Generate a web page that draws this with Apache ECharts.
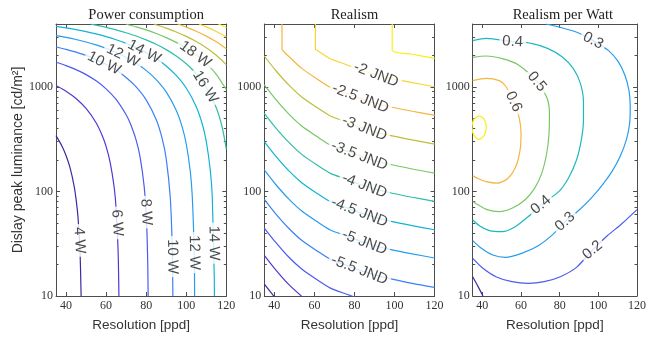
<!DOCTYPE html>
<html><head><meta charset="utf-8">
<script src="https://cdn.jsdelivr.net/npm/echarts@6/dist/echarts.min.js"></script>
<style>html,body{margin:0;padding:0;background:#fff}#c{width:649px;height:339px}</style>
</head><body><div id="c"></div>
<script>
// ================= DATA =================
const panelTitles = ['Power consumption', 'Realism', 'Realism per Watt'];
const xAxisName = 'Resolution [ppd]';
const yAxisName = 'Dislay peak luminance [cd/m²]';
const xTicks = [40, 60, 80, 100, 120];
const yTicks = [10, 100, 1000];
const yMinorTicks = [20, 30, 40, 50, 60, 70, 80, 90, 200, 300, 400, 500, 600, 700, 800, 900, 2000, 3000];

// Power consumption contours: [resolution ppd, luminance cd/m2]
const power04W = [[35,342],[38,271],[40,221],[42,169],[44,114],[45,85],[46,56],[47,26],[47.53,10]];
const power06W = [[35,1031],[40,911],[45,775],[50,622],[55,454],[58,345],[60,270],[62,191],[64,111],[65,69],[66,27],[66.4,10]];
const power08W = [[35,1721],[40,1601],[45,1464],[50,1312],[55,1144],[60,959],[65,759],[70,542],[72,451],[75,310],[77,212],[79,112],[80,61],[80.5,35],[80.8,20],[81,10]];
const power10W = [[35,2411],[40,2290],[45,2154],[50,2002],[55,1833],[60,1649],[65,1449],[70,1232],[75,1000],[80,751],[85,487],[88,320],[90,206],[92,89],[93,30],[93.33,10]];
const power12W = [[35,3100],[40,2980],[45,2844],[50,2691],[55,2523],[60,2339],[65,2138],[70,1922],[75,1689],[80,1441],[85,1176],[90,896],[95,599],[98,413],[100,286],[102,157],[103,91],[104,25],[104.2,10]];
const power14W = [[35,3790],[40,3670],[45,3533],[50,3381],[55,3213],[60,3028],[65,2828],[70,2611],[75,2379],[80,2130],[85,1866],[90,1585],[95,1289],[100,976],[105,647],[108,442],[110,302],[112,160],[113,88],[114,15],[114.07,10]];
const power16W = [[52.2,4000],[55,3902],[60,3718],[65,3518],[70,3301],[75,3069],[80,2820],[85,2556],[90,2275],[95,1978],[100,1666],[105,1337],[110,992],[115,631],[118,407],[120,254]];
const power18W = [[69.8,4000],[70,3991],[75,3758],[80,3510],[85,3245],[90,2964],[95,2668],[100,2355],[105,2027],[110,1682],[115,1321],[120,944]];
const power20W = [[83.8,4000],[85,3935],[90,3654],[95,3358],[100,3045],[105,2716],[110,2371],[115,2011],[120,1634]];
const power22W = [[95.8,4000],[100,3734],[105,3406],[110,3061],[115,2700],[120,2323]];
const power24W = [[106.4,4000],[110,3751],[115,3390],[120,3013]];
const power26W = [[116.1,4000],[120,3703]];
const powerLabelText = ['4 W','6 W','8 W','10 W','12 W','14 W','10 W','12 W','14 W','16 W','18 W'];
const powerLabelAt = [[46.7,34],[65.5,50],[80,63.5],[93.1,23.8],[104,26],[113.8,32],[59,1680],[68.5,1985],[79,2170],[109.5,1000],[104.5,2050]];

// Realism contours (JND)
const realismM70 = [[35,13.0],[40.5,9.57]];
const realismM65 = [[35,24.5],[40.5,18.0],[47.17,12.9],[53.83,9.86]];
const realismM60 = [[35,44.7],[40.5,32.9],[47.17,23.6],[53.83,18.0],[61.33,14.3],[68,11.9],[75.5,10.5],[83.83,9.2]];
const realismM55 = [[35,84.1],[40.5,61.8],[47.17,44.5],[53.83,33.9],[61.33,27.0],[68,22.4],[75.5,19.8],[83.83,17.3],[91.33,15.7],[98.83,14.5],[108.83,13.2],[120,12.1]];
const realismM50 = [[35,160.5],[40.5,117.9],[47.17,84.9],[53.83,64.6],[61.33,51.5],[68,42.8],[75.5,37.8],[83.83,33.0],[91.33,29.9],[98.83,27.6],[108.83,25.3],[120,23.1]];
const realismM45 = [[35,299.5],[40.5,220],[47.17,158],[53.83,120.6],[61.33,96],[68,79.8],[75.5,70.6],[83.83,61.7],[91.33,55.8],[98.83,51.5],[108.83,47.1],[120,43.0]];
const realismM40 = [[35,559],[40.5,411],[47.17,296],[53.83,225],[61.33,179],[68,149],[75.5,132],[83.83,115],[91.33,104],[98.83,96.2],[108.83,88],[120,80.3]];
const realismM35 = [[35,1044],[40.5,767],[47.17,552],[53.83,420],[61.33,335],[68,278],[75.5,246],[83.83,215],[91.33,194],[98.83,180],[108.83,164],[120,150]];
const realismM30 = [[35,1977],[40.5,1452],[47.17,1045],[53.83,796],[61.33,634],[68,527],[75.5,466],[83.83,407],[91.33,368],[98.83,340],[108.83,311],[120,284]];
const realismM25 = [[43.83,4000],[43.83,2315],[47.17,1965],[53.83,1496],[61.33,1192],[68,991],[75.5,876],[83.83,765],[91.33,692],[98.83,639],[108.83,585],[120,534]];
const realismM20 = [[60.5,4000],[60.5,2296],[61.33,2242],[68,1863],[75.5,1648],[83.83,1439],[91.33,1301],[98.83,1202],[108.83,1100],[120,1004]];
const realismM15 = [[98.83,4000],[98.83,2244],[108.83,2053],[120,1874]];
const realismLabelText = ['-2 JND','-2.5 JND','-3 JND','-3.5 JND','-4 JND','-4.5 JND','-5 JND','-5.5 JND'];
const realismLabelAt = [[90.8,1309],[83,778],[85,402],[82.5,220],[85,113.6],[82.5,63.2],[85,32.6],[82.5,17.7]];

// Realism per Watt contours
const rpw01 = [[35,15.3],[37.8,12.3],[40.3,10]];
const rpw02 = [[35,22.9],[40.3,18.4],[47,15.3],[55.3,13.7],[63.7,13.2],[72,13.7],[80.3,15.3],[88.7,18.8],[97,27.5],[104.5,37.5],[112,48.8],[120,67]];
const rpw03 = [[72.8,4000],[80.3,3715],[89.5,3303],[97.3,2773],[105.3,2225],[110.3,1745],[113.7,1301],[115.8,935],[116.5,648],[116.2,449],[114.5,311],[111.2,215],[107,155],[102,115],[96.2,86],[89.5,65],[82.8,51.4],[76.2,38.4],[68.7,30.1],[60.3,25.6],[52,23.4],[45.3,24.7],[39.5,28.6],[35,33.9]];
const rpw04 = [[35,2773],[42,2919],[55.7,2711],[65.3,2612],[73.7,2339],[81.2,1948],[87,1508],[90.7,1083],[92.3,723],[92.3,483],[91.2,311],[88.7,200],[84.5,134],[79.5,99.6],[70.3,74.3],[63.7,57.4],[57,46],[50.3,41.2],[43.7,42.2],[38.7,46.8],[35,53.4]];
const rpw05 = [[35,1919],[42,1977],[50.3,1863],[58.7,1622],[68.2,1123],[73.3,796],[74.7,560],[74.5,360],[73.3,232],[70.7,149],[67,107],[62,82.9],[55.3,69],[48.7,64.1],[42,67.5],[37,75.9],[35,80]];
const rpw06 = [[35,1148],[42,1208],[48.7,1148],[52,1021],[56.2,723],[59,512],[60,360],[59.5,249],[57.3,173],[53.3,134],[47.8,120],[42,124],[37,135],[35,141]];
const rpw07 = [[38.3,531],[40.9,492],[42,411],[40.9,343],[38.3,315],[35.7,343],[34.6,411],[35.7,492],[38.3,531]];
const rpwLabelText = ['0.4','0.3','0.5','0.6','0.4','0.3','0.2'];
const rpwLabelAt = [[55.7,2711],[97.3,2773],[68.2,1123],[56.2,723],[70.3,74.3],[82.8,51.4],[97,27.5]];

// ================= STYLE / LAYOUT =================
const pal = ['#3e2a9e','#4a3bd6','#4a5cf0','#3c80f6','#269cee','#12b4d4','#2ebfa6','#78c766','#bebe3a','#f5b53e','#f8d433','#f7f018'];
const powerLines = [power04W,power06W,power08W,power10W,power12W,power14W,power16W,power18W,power20W,power22W,power24W,power26W];
const realismLines = [realismM70,realismM65,realismM60,realismM55,realismM50,realismM45,realismM40,realismM35,realismM30,realismM25,realismM20,realismM15];
const rpwLines = [rpw01,rpw02,rpw03,rpw04,rpw05,rpw06,rpw07];
const rpwColors = [pal[0], pal[2], pal[4], '#1fb9bd', pal[7], pal[9], pal[11]];
const powerRot = [-87,-87,-87,-89,-89,-89,-27,-26,-28,-58,-36];
const realismRot = [-21,-21,-21,-21,-21,-21,-21,-21];
const rpwRot = [-3,-28,-50,-65,40,42,40];

const gridLefts = [56, 264.3, 472.7];
const gridW = 170.3, gridTop = 24, gridH = 272;
const frameColor = '#4d4d4d';
const serif = 'Liberation Serif';
const sans = 'Liberation Sans';

const grids = [], xAxes = [], yAxes = [], titles = [], series = [];
gridLefts.forEach((l, g) => {
  grids.push({left: l, top: gridTop, width: gridW, height: gridH, containLabel: false});
  titles.push({text: panelTitles[g], left: l + gridW / 2, top: 3, textAlign: 'center',
    textStyle: {fontFamily: serif, fontSize: 14.5, fontWeight: 'normal', color: '#222'}});
  const xBase = {gridIndex: g, type: 'value', min: 35, max: 120, splitLine: {show: false},
    axisLine: {show: true, onZero: false, lineStyle: {color: frameColor, width: 1}},
    axisTick: {show: true, inside: true, length: 4, customValues: xTicks, lineStyle: {color: frameColor}}};
  xAxes.push(Object.assign({}, xBase, {position: 'bottom',
    axisLabel: {customValues: xTicks, fontFamily: serif, fontSize: 12, color: '#333', margin: 4},
    name: xAxisName, nameLocation: 'middle', nameGap: 22,
    nameTextStyle: {fontFamily: sans, fontSize: 13.5, color: '#333'}}));
  xAxes.push(Object.assign({}, xBase, {position: 'top', axisLabel: {show: false}}));
  const yBase = {gridIndex: g, type: 'log', logBase: 10, min: 10, max: 4000, splitLine: {show: false},
    axisLine: {show: true, onZero: false, lineStyle: {color: frameColor, width: 1}}};
  ['left', 'right'].forEach(side => {
    const major = Object.assign({}, yBase, {position: side,
      axisTick: {show: true, inside: true, length: 4, customValues: yTicks, lineStyle: {color: frameColor}},
      axisLabel: side === 'left' ? {customValues: yTicks, formatter: v => String(Math.round(v)),
        fontFamily: serif, fontSize: 12, color: '#333', margin: 3} : {show: false}});
    if (side === 'left' && g === 0) {
      Object.assign(major, {name: yAxisName, nameLocation: 'middle', nameGap: 31,
        nameTextStyle: {fontFamily: sans, fontSize: 14, color: '#333'}});
    }
    yAxes.push(major);
    yAxes.push(Object.assign({}, yBase, {position: side, axisLine: {show: false},
      axisTick: {show: true, inside: true, length: 2.5, customValues: yMinorTicks, lineStyle: {color: frameColor}},
      axisLabel: {show: false}}));
  });
});

function addLines(g, lines, colors) {
  lines.forEach((arr, i) => series.push({type: 'line', xAxisIndex: 2 * g, yAxisIndex: 4 * g, data: arr,
    symbol: 'none', smooth: 0.25, silent: true, z: 2, lineStyle: {color: colors[i], width: 1.2}}));
}
function addLabels(g, texts, at, rots) {
  series.push({type: 'scatter', xAxisIndex: 2 * g, yAxisIndex: 4 * g, symbolSize: 1, silent: true, z: 5,
    itemStyle: {color: 'rgba(0,0,0,0)'},
    label: {show: true, position: 'inside', fontFamily: sans, fontSize: 15, color: '#1a1a1a',
      backgroundColor: '#fff', padding: [0, 3]},
    data: at.map((p, i) => ({value: p, label: {formatter: texts[i], rotate: rots[i]}}))});
}
addLines(0, powerLines, pal);
addLines(1, realismLines, pal);
addLines(2, rpwLines, rpwColors);
addLabels(0, powerLabelText, powerLabelAt, powerRot);
addLabels(1, realismLabelText, realismLabelAt, realismRot);
addLabels(2, rpwLabelText, rpwLabelAt, rpwRot);

const chart = echarts.init(document.getElementById('c'), null, {renderer: 'canvas'});
chart.setOption({animation: false, backgroundColor: '#fff', title: titles, grid: grids,
  xAxis: xAxes, yAxis: yAxes, series: series});
</script></body></html>
